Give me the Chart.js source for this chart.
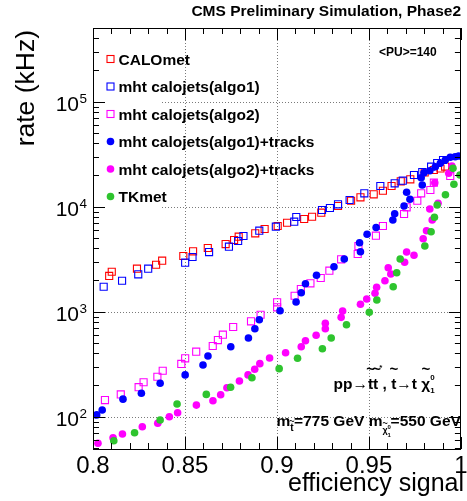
<!DOCTYPE html>
<html>
<head>
<meta charset="utf-8">
<script src="https://cdn.jsdelivr.net/npm/chart.js@4.4.0/dist/chart.umd.min.js"></script>
<style>
  html, body { margin: 0; padding: 0; background: #fff; }
</style>
</head>
<body>
<canvas id="c" width="467" height="501"></canvas>
<script>
const FONT = '"Liberation Sans", Arial, Helvetica, sans-serif';

// ===== DATA =====
const xTicks = [0.8, 0.85, 0.9, 0.95, 1.0];
const xTickLabels = ['0.8', '0.85', '0.9', '0.95', '1'];
const yDecades = [2, 3, 4, 5];

const caloEff  = [0.8088, 0.8102, 0.8239, 0.8343, 0.8376, 0.8491, 0.8544, 0.8624, 0.8721, 0.8767, 0.8792, 0.8882, 0.8933, 0.9004, 0.9055, 0.9148, 0.9191, 0.9241, 0.9332, 0.9403, 0.9454, 0.9526, 0.9576, 0.9623, 0.9673, 0.9725, 0.9803, 0.9853, 0.9889, 0.9914];
const caloRate = [2190, 2400, 2570, 2800, 3060, 3390, 3760, 4040, 4410, 4820, 5180, 5580, 6130, 6550, 7040, 7640, 8030, 8770, 10160, 11400, 12290, 13120, 14200, 15740, 17450, 18230, 21170, 22360, 23110, 24100];

const a1Eff  = [0.8058, 0.8158, 0.8246, 0.8300, 0.8501, 0.8541, 0.8631, 0.8739, 0.8789, 0.8818, 0.8904, 0.8994, 0.9094, 0.9105, 0.9245, 0.9288, 0.9332, 0.9395, 0.9475, 0.9562, 0.9640, 0.9684, 0.9745, 0.9790, 0.9838, 0.9871, 0.9903];
const a1Rate = [1730, 1970, 2270, 2570, 2930, 3320, 3700, 4160, 4710, 5260, 5910, 6450, 7200, 7980, 9300, 9720, 10540, 11580, 13420, 15740, 16710, 17690, 20040, 21400, 24050, 26070, 27850];

const a2Eff  = [0.8065, 0.8151, 0.8248, 0.8275, 0.8350, 0.8379, 0.8480, 0.8501, 0.8561, 0.8651, 0.8679, 0.8706, 0.8762, 0.8859, 0.8911, 0.9001, 0.9001, 0.9096, 0.9130, 0.9182, 0.9238, 0.9285, 0.9349, 0.9439, 0.9443, 0.9538, 0.9576, 0.9691, 0.9705, 0.9763, 0.9784, 0.9834, 0.9853, 0.9942];
const a2Rate = [144, 163, 191, 213, 240, 274, 318, 360, 416, 471, 537, 604, 715, 810, 936, 1101, 1229, 1420, 1645, 1864, 2094, 2458, 3155, 3544, 4225, 5294, 6550, 8520, 9870, 11400, 13420, 14430, 16930, 19600];

const a1tEff  = [0.8020, 0.8050, 0.8163, 0.8263, 0.8365, 0.8501, 0.8598, 0.8625, 0.8749, 0.8845, 0.8880, 0.8904, 0.9017, 0.9104, 0.9132, 0.9155, 0.9215, 0.9310, 0.9366, 0.9454, 0.9449, 0.9490, 0.9539, 0.9630, 0.9640, 0.9691, 0.9705, 0.9723, 0.9784, 0.9790, 0.9799, 0.9831, 0.9861, 0.9888, 0.9915, 0.9942, 0.9969, 0.9988];
const a1tRate = [104, 116, 147, 167, 208, 250, 311, 379, 464, 562, 689, 839, 1022, 1237, 1517, 1848, 2222, 2683, 3177, 3728, 4540, 5460, 6340, 7470, 8580, 10160, 13710, 11760, 18890, 16090, 21070, 22030, 24050, 25900, 27850, 29540, 29930, 30400];

const a2tEff  = [0.8027, 0.8109, 0.8160, 0.8268, 0.8352, 0.8415, 0.8460, 0.8562, 0.8652, 0.8694, 0.8728, 0.8796, 0.8843, 0.8879, 0.8907, 0.8960, 0.9047, 0.9132, 0.9155, 0.9213, 0.9263, 0.9263, 0.9349, 0.9357, 0.9454, 0.9488, 0.9533, 0.9542, 0.9587, 0.9619, 0.9605, 0.9694, 0.9745, 0.9705, 0.9795, 0.9813, 0.9844, 0.9831, 0.9876, 0.9858, 0.9934, 0.9951];
const a2tRate = [55.8, 63.1, 68.4, 80.3, 86.5, 100, 109, 129, 142, 162, 189, 219, 250, 283, 320, 362, 407, 464, 529, 596, 689, 775, 884, 1015, 1176, 1321, 1497, 1708, 1974, 2286, 2624, 2954, 3445, 3703, 4960, 5910, 7470, 9510, 10770, 16930, 20800, 24400];

const tkEff  = [0.8113, 0.8226, 0.8365, 0.8457, 0.8616, 0.8748, 0.8864, 0.9012, 0.9112, 0.9247, 0.9295, 0.9378, 0.9502, 0.9543, 0.9632, 0.9651, 0.9670, 0.9804, 0.9838, 0.9856, 0.9871, 0.9916, 0.9962, 0.9957, 0.9995];
const tkRate = [59.1, 70.4, 93, 132, 163, 191, 235, 287, 360, 444, 562, 752, 987, 1292, 1730, 2350, 3177, 4225, 5780, 7930, 10380, 13010, 16340, 23200, 20040];

const RED = '#ff0000', BLUE = '#0000ff', MAG = '#ff00ff', GREEN = '#2ec42e';

function pts(xs, ys) { return xs.map((x, i) => ({ x: x, y: ys[i] })); }

function openSeries(label, xs, ys, color, order) {
  return { label, data: pts(xs, ys), order, pointStyle: 'rect', pointRadius: 5,
    borderColor: color, backgroundColor: 'rgba(0,0,0,0)', pointBorderWidth: 1.1, showLine: false };
}
function fullSeries(label, xs, ys, color, order) {
  return { label, data: pts(xs, ys), order, pointStyle: 'circle', pointRadius: 3.8,
    borderColor: color, backgroundColor: color, pointBorderWidth: 0, showLine: false };
}

// ===== DRAW HELPERS =====
function line(ctx, x1, y1, x2, y2) {
  ctx.beginPath(); ctx.moveTo(x1, y1); ctx.lineTo(x2, y2); ctx.stroke();
}

// sequential text pieces: [text, font, dy, extra(x, w), gap]
function drawPieces(ctx, x, y, pieces) {
  pieces.forEach(p => {
    ctx.font = p[1];
    ctx.fillText(p[0], x, y + (p[2] || 0));
    const w = ctx.measureText(p[0]).width;
    if (p[3]) p[3](x, w);
    x += w + (p[4] || 0);
  });
  return x;
}

const rootPlugin = {
  id: 'rootStyle',
  beforeDatasetsDraw(chart) {
    const ctx = chart.ctx, a = chart.chartArea;
    const xs = chart.scales.x, ys = chart.scales.y;
    ctx.save();
    ctx.strokeStyle = '#7a7a7a';
    ctx.lineWidth = 1;
    ctx.setLineDash([1, 2]);
    xTicks.slice(1, -1).forEach(v => {
      const px = Math.round(xs.getPixelForValue(v)) + 0.5;
      line(ctx, px, a.top, px, a.bottom);
    });
    yDecades.forEach(d => {
      const py = Math.round(ys.getPixelForValue(Math.pow(10, d))) + 0.5;
      const x0 = d >= 4 ? 162 : a.left;
      line(ctx, x0, py, a.right, py);
    });
    ctx.restore();
  },
  afterDatasetsDraw(chart) {
    const ctx = chart.ctx, a = chart.chartArea;
    const xs = chart.scales.x, ys = chart.scales.y;
    ctx.save();
    ctx.strokeStyle = '#000';
    ctx.lineWidth = 1;
    // frame
    ctx.strokeRect(Math.round(a.left) + 0.5, Math.round(a.top) + 0.5,
      Math.round(a.right - a.left) - 1, Math.round(a.bottom - a.top));
    // x ticks (bottom and top)
    for (let i = 0; i <= 20; i++) {
      const px = Math.round(xs.getPixelForValue(0.8 + i * 0.01)) + 0.5;
      const len = i % 5 === 0 ? 12 : 6;
      line(ctx, px, a.bottom, px, a.bottom - len);
      line(ctx, px, a.top, px, a.top + len);
    }
    // y ticks (left and right), log minor ticks
    for (let d = 1; d <= 5; d++) {
      for (let m = 1; m <= 9; m++) {
        const v = m * Math.pow(10, d);
        if (v < ys.min || v > ys.max) continue;
        const py = Math.round(ys.getPixelForValue(v)) + 0.5;
        const len = m === 1 ? 12 : 6;
        line(ctx, a.left, py, a.left + len, py);
        line(ctx, a.right, py, a.right - len, py);
      }
    }

    ctx.fillStyle = '#000';
    // x tick labels
    ctx.font = '24px ' + FONT;
    ctx.textAlign = 'center';
    ctx.textBaseline = 'alphabetic';
    xTicks.forEach((v, i) => {
      ctx.fillText(xTickLabels[i], xs.getPixelForValue(v), 473);
    });
    // y tick labels 10^d
    yDecades.forEach(d => {
      const py = ys.getPixelForValue(Math.pow(10, d));
      ctx.textAlign = 'right';
      ctx.font = '13.5px ' + FONT;
      const ew = ctx.measureText(String(d)).width;
      ctx.fillText(String(d), 87, py + 1);
      ctx.font = '21px ' + FONT;
      ctx.fillText('10', 87 - ew - 0.5, py + 9);
    });
    // axis titles
    ctx.font = '25px ' + FONT;
    ctx.textAlign = 'right';
    ctx.fillText('efficiency signal', 464, 491);
    ctx.save();
    ctx.translate(34, 30);
    ctx.rotate(-Math.PI / 2);
    ctx.font = '26.5px ' + FONT;
    ctx.fillText('rate (kHz)', 0, 0);
    ctx.restore();
    // header
    ctx.font = 'bold 15.5px ' + FONT;
    ctx.textAlign = 'right';
    ctx.fillText('CMS Preliminary Simulation, Phase2', 461, 16);

    // legend
    ctx.textAlign = 'left';
    const rowY = [59, 86.5, 114, 141.5, 169, 196.5];
    chart.data.datasets.forEach((ds, i) => {
      const y = rowY[i], x = 110.5;
      if (ds.pointStyle === 'rect') {
        ctx.strokeStyle = ds.borderColor;
        ctx.lineWidth = 1.1;
        ctx.strokeRect(x - 3.5, y - 3.5, 7, 7);
      } else {
        ctx.fillStyle = ds.backgroundColor;
        ctx.beginPath(); ctx.arc(x, y, 3.8, 0, Math.PI * 2); ctx.fill();
      }
      ctx.fillStyle = '#000';
      ctx.font = 'bold 15.5px ' + FONT;
      ctx.fillText(ds.label, 118.5, y + 5.5);
    });

    // annotations
    ctx.font = 'bold 12px ' + FONT;
    ctx.fillText('<PU>=140', 379, 55.5);

    const B = 'bold 15.5px ' + FONT, S = 'bold 10px ' + FONT, T = 'bold 8px ' + FONT;
    const tilde = (cx, cy, size) => {
      ctx.save(); ctx.font = 'bold ' + (size || 15) + 'px ' + FONT; ctx.textAlign = 'center';
      ctx.fillText('~', cx, cy); ctx.restore();
    };
    drawPieces(ctx, 333.5, 388.5, [
      ['pp\u2192', B],
      ['t', B, 0, (x, w) => tilde(x + w / 2, 374)],
      ['t', B, 0, (x, w) => { tilde(x + w / 2 + 1, 374); ctx.save(); ctx.font = T; ctx.fillText('*', x + w + 1, 370); ctx.restore(); }],
      [' , ', B],
      ['t', B, 0, (x, w) => tilde(x + w / 2, 374)],
      ['\u2192t ', B],
      ['\u03c7', B, 0, (x, w) => tilde(x + w / 2, 374)],
      ['0', T, -9, (x) => { ctx.save(); ctx.font = T; ctx.fillText('1', x, 393); ctx.restore(); }]
    ]);
    drawPieces(ctx, 276.5, 426, [
      ['m', B],
      ['t', S, 5, (x, w) => tilde(x + w / 2, 424, 9), 0.5],
      ['=775 GeV m', B],
      ['\u03c7', 'bold 9px ' + FONT, 7, (x, w) => {
        ctx.save(); ctx.font = 'bold 6px ' + FONT;
        ctx.fillText('0', x + w, 429); ctx.fillText('1', x + w, 437);
        ctx.restore();
        tilde(x + w / 2, 426, 9);
      }, 3],
      ['=550 GeV', B]
    ]);
    ctx.restore();
  }
};

// legend background patch (covers grid at left of legend)
const patchPlugin = {
  id: 'legendPatch',
  beforeDatasetsDraw(chart) {
    const ctx = chart.ctx;
    ctx.save();
    ctx.fillStyle = '#fff';
    ctx.fillRect(106, 40, 56, 172);
    ctx.restore();
  }
};

new Chart(document.getElementById('c'), {
  type: 'scatter',
  data: {
    datasets: [
      openSeries('CALOmet', caloEff, caloRate, RED, 5),
      openSeries('mht calojets(algo1)', a1Eff, a1Rate, BLUE, 4),
      openSeries('mht calojets(algo2)', a2Eff, a2Rate, MAG, 3),
      fullSeries('mht calojets(algo1)+tracks', a1tEff, a1tRate, BLUE, 2),
      fullSeries('mht calojets(algo2)+tracks', a2tEff, a2tRate, MAG, 1),
      fullSeries('TKmet', tkEff, tkRate, GREEN, 0)
    ]
  },
  options: {
    responsive: false,
    animation: false,
    devicePixelRatio: 1,
    layout: { padding: { left: 93, right: 3, top: 28, bottom: 52 } },
    plugins: { legend: { display: false }, tooltip: { enabled: false } },
    scales: {
      x: { type: 'linear', min: 0.8, max: 1.0, display: false },
      y: { type: 'logarithmic', min: 49.25, max: 503500, display: false }
    }
  },
  plugins: [rootPlugin, patchPlugin]
});
</script>
</body>
</html>
